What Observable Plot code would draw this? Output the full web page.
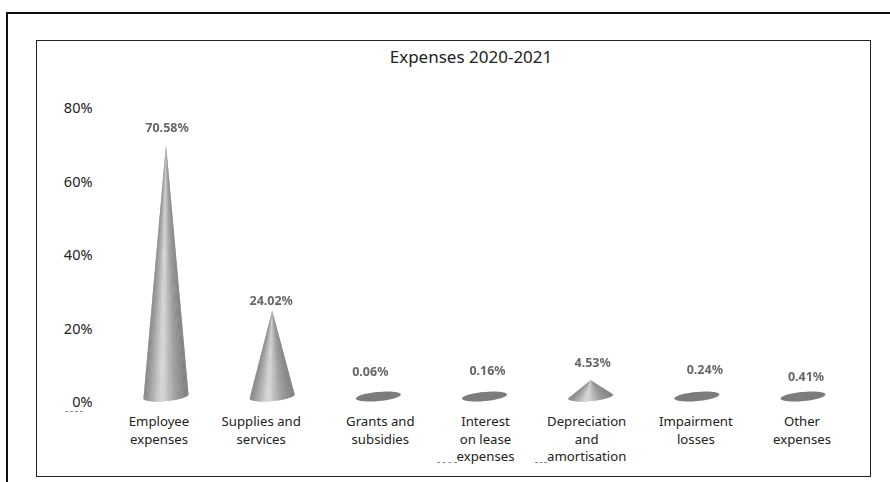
<!DOCTYPE html>
<html lang="en">
<head>
<meta charset="utf-8">
<title>Expenses 2020-2021</title>
<script src="https://cdn.jsdelivr.net/npm/d3@7"></script>
<script src="https://cdn.jsdelivr.net/npm/@observablehq/plot@0.6"></script>
<style>
  html, body { margin: 0; background: #fff; }
  body { position: relative; width: 890px; height: 482px; overflow: hidden; font-family: "Noto Sans", sans-serif; }
  #chart svg { display: block; }
  .outer { position: absolute; left: 6px; top: 12px; right: -4px; bottom: -4px; border: 2px solid #111; }
  .inner { position: absolute; left: 36px; top: 40px; width: 833px; height: 435px; border: 1px solid #222; }
  .title { position: absolute; left: 300px; width: 342px; top: 46px; text-align: center; font-size: 17px; line-height: 22px; color: #222; }
  .smudge { position: absolute; height: 0; border-bottom: 1px dashed #8c8c8c; }
  .soft { filter: blur(0.6px); }
</style>
</head>
<body>
<div class="outer"></div>
<div class="inner"></div>
<div class="title">Expenses 2020-2021</div>
<div class="smudge" style="left:65px;top:411px;width:18px"></div>
<div class="smudge" style="left:437px;top:462px;width:20px"></div>
<div class="smudge" style="left:535px;top:462px;width:12px"></div>
<div id="chart"></div>
<script>
const categories = [
  "Employee\nexpenses",
  "Supplies and\nservices",
  "Grants and\nsubsidies",
  "Interest\non lease\nexpenses",
  "Depreciation\nand\namortisation",
  "Impairment\nlosses",
  "Other\nexpenses"
];
const shares = [70.58, 24.02, 0.06, 0.16, 4.53, 0.24, 0.41];
const yTicks = [0, 20, 40, 60, 80];

// Pixel nudges for the hand-placed labels.
const categoryDx = [-7, -11, 2, 1, -4, -1, -1];
const valueDx = [1, -1, -8, 3, 2, 8, 3];
const valueDy = [-17, -10, -25, -26, -17, -27, -20];

// The cones stand on a tilted floor, so heights are foreshortened and the
// base sits slightly above the axis zero.
const floor = 1.63;
const foreshorten = 0.971;
const tipOf = (v) => floor + v * foreshorten;

// Base ellipse, in scale units.
const radius = 0.212;
const tilt = 0.55;
const squash = 1.25;
const basePoint = (i, deg) => {
  const t = (deg * Math.PI) / 180;
  return {
    x: i + radius * Math.cos(t),
    y: floor + tilt * Math.cos(t) - squash * Math.sin(t)
  };
};

// Metallic shading across the front of a cone, left edge to right edge.
const shade = d3.scaleLinear()
  .domain([0, 0.3, 0.6, 0.82, 1])
  .range(["#767676", "#a0a0a0", "#dedede", "#ababab", "#7e7e7e"]);

// Each cone is a fan of narrow facets meeting at the tip, so the shading
// converges there the way it does on a round surface.
const step = 6;
const facets = shares.flatMap((v, i) =>
  v < 1
    ? []
    : d3.range(0, 180, step).flatMap((deg) => {
        const id = `${i}-${deg}`;
        const a = basePoint(i, deg);
        const b = basePoint(i, deg + step);
        const s = shade((1 - (a.x + b.x - 2 * i) / (2 * radius)) / 2);
        return [
          { id, shade: s, x: i, y: tipOf(v) },
          { id, shade: s, ...a },
          { id, shade: s, ...b }
        ];
      })
);

// A plain silhouette under the fan keeps the facet seams from showing.
const silhouettes = shares.flatMap((v, i) =>
  v < 1
    ? []
    : [{ id: i, x: i, y: tipOf(v) }, ...d3.range(0, 181, step).map((deg) => ({ id: i, ...basePoint(i, deg) }))]
);

// Shares under one percent only show the base ellipse.
const discs = shares.flatMap((v, i) =>
  v < 1 ? d3.range(0, 361, 10).map((deg) => ({ id: i, ...basePoint(i, deg) })) : []
);

const chart = Plot.plot({
  width: 890,
  height: 482,
  marginLeft: 95,
  marginRight: 0,
  marginTop: 0,
  marginBottom: 0,
  style: { fontFamily: '"Noto Sans", sans-serif', background: "transparent", overflow: "visible" },
  x: { domain: [0, 6], range: [165.5, 802.5], axis: null },
  y: { domain: [0, 80], range: [402, 108], axis: null },
  color: { type: "identity" },
  marks: [
    Plot.axisY(yTicks, {
      tickSize: 0,
      tickPadding: 3,
      tickFormat: (d) => `${d}%`,
      fontSize: 14.5,
      fill: "#222",
      label: null
    }),
    Plot.line(silhouettes, { x: "x", y: "y", z: "id", fill: "#b4b4b4", stroke: null, className: "soft" }),
    Plot.line(facets, { x: "x", y: "y", z: "id", fill: "shade", stroke: null, className: "soft" }),
    Plot.line(discs, { x: "x", y: "y", z: "id", fill: "#7c7c7c", stroke: null, className: "soft" }),
    ...shares.map((v, i) =>
      Plot.text([v], {
        x: () => i,
        y: () => (v < 1 ? floor : tipOf(v)),
        text: (d) => `${d.toFixed(2)}%`,
        dx: valueDx[i],
        dy: valueDy[i],
        fontSize: 12.5,
        fontWeight: 700,
        fill: "#666",
        className: "soft"
      })
    ),
    ...categories.map((c, i) =>
      Plot.text([c], {
        x: () => i,
        y: () => 0,
        text: (d) => d,
        dx: categoryDx[i],
        dy: 11,
        lineAnchor: "top",
        lineHeight: 1.34,
        fontSize: 13.2,
        fill: "#222"
      })
    )
  ]
});

document.getElementById("chart").append(chart);
</script>
</body>
</html>
